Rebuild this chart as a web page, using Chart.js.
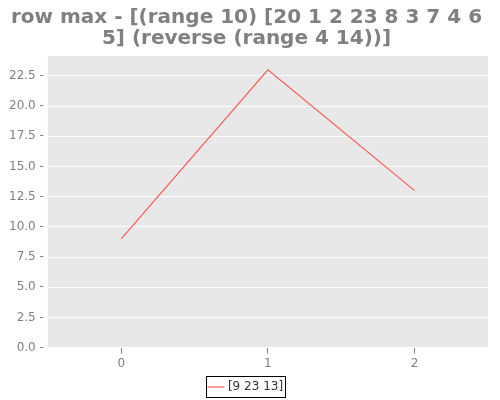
<!DOCTYPE html>
<html>
<head>
<meta charset="utf-8">
<script src="https://cdn.jsdelivr.net/npm/chart.js"></script>
<style>
  html, body { margin: 0; padding: 0; background: #fff; }
  #wrap { width: 500px; height: 400px; }
</style>
</head>
<body>
<div id="wrap"><canvas id="chart" width="500" height="400"></canvas></div>
<script>
// data
const xValues = [0, 1, 2]
const rowMax = [9, 23, 13]
const seriesLabel = "[9 23 13]"
const xTicks = [0, 1, 2]
const yTicks = [0, 2.5, 5, 7.5, 10, 12.5, 15, 17.5, 20, 22.5]
const titleLines = ["row max - [(range 10) [20 1 2 23 8 3 7 4 6", "5] (reverse (range 4 14))]"]

const FONT = "'DejaVu Sans', sans-serif"
const GREY = "#808080"

// grey panel behind the plot, like ggplot
const panelBg = {
  id: "panelBg",
  beforeDraw(chart) {
    const { ctx, chartArea } = chart
    ctx.save()
    ctx.fillStyle = "#e8e8e8"
    ctx.fillRect(chartArea.left, chartArea.top, chartArea.right - chartArea.left, chartArea.bottom - chartArea.top)
    ctx.restore()
  },
}

// push the legend a few pixels lower without moving the plot
const legendShift = {
  id: "legendShift",
  afterUpdate(chart) {
    const lg = chart.legend
    if (!lg) return
    lg.top += 3
    lg.bottom += 3
    ;(lg.legendHitBoxes || []).forEach((h) => { h.top += 3 })
  },
}

// black frame round the legend
const legendFrame = {
  id: "legendFrame",
  afterDraw(chart) {
    const boxes = chart.legend && chart.legend.legendHitBoxes
    if (!boxes || !boxes.length) return
    const b = boxes[0]
    const { ctx } = chart
    ctx.save()
    ctx.strokeStyle = "#000"
    ctx.lineWidth = 1
    ctx.strokeRect(Math.round(b.left) - 3.5, Math.round(b.top) - 4.5, Math.round(b.width) + 6, Math.round(b.height) + 9)
    ctx.restore()
  },
}

new Chart(document.getElementById("chart"), {
  type: "line",
  data: {
    datasets: [
      {
        label: seriesLabel,
        data: xValues.map((x, i) => ({ x: x, y: rowMax[i] })),
        borderColor: "#f85858",
        backgroundColor: "#f85858",
        borderWidth: 1.2,
        pointRadius: 0,
        tension: 0,
        fill: false,
      },
    ],
  },
  options: {
    responsive: false,
    animation: false,
    layout: { padding: { left: 5, right: 12, top: 7, bottom: 0 } },
    plugins: {
      title: {
        display: true,
        text: titleLines,
        color: GREY,
        font: { family: FONT, size: 20, weight: "bold", lineHeight: 1.05 },
        padding: { top: 0, bottom: 7 },
      },
      legend: {
        position: "bottom",
        labels: {
          usePointStyle: true,
          pointStyle: "line",
          boxWidth: 16,
          color: "#333",
          font: { family: FONT, size: 12 },
          padding: 4,
        },
      },
      tooltip: { enabled: false },
    },
    scales: {
      x: {
        type: "linear",
        min: -0.5,
        max: 2.5,
        afterBuildTicks: (axis) => { axis.ticks = xTicks.map((v) => ({ value: v })) },
        grid: { display: true, drawOnChartArea: false, drawTicks: true, tickLength: 6, tickColor: GREY },
        border: { display: false },
        ticks: { color: GREY, font: { family: FONT, size: 12 }, padding: 3 },
      },
      y: {
        min: 0,
        max: 24.15,
        afterBuildTicks: (axis) => { axis.ticks = yTicks.map((v) => ({ value: v })) },
        grid: { color: "#ffffff", lineWidth: 1, drawTicks: false },
        border: { display: false },
        ticks: {
          color: GREY,
          font: { family: FONT, size: 12 },
          padding: 4,
          callback: (v) => Number(v).toFixed(1) + " -",
        },
      },
    },
  },
  plugins: [panelBg, legendShift, legendFrame],
})
</script>
</body>
</html>
